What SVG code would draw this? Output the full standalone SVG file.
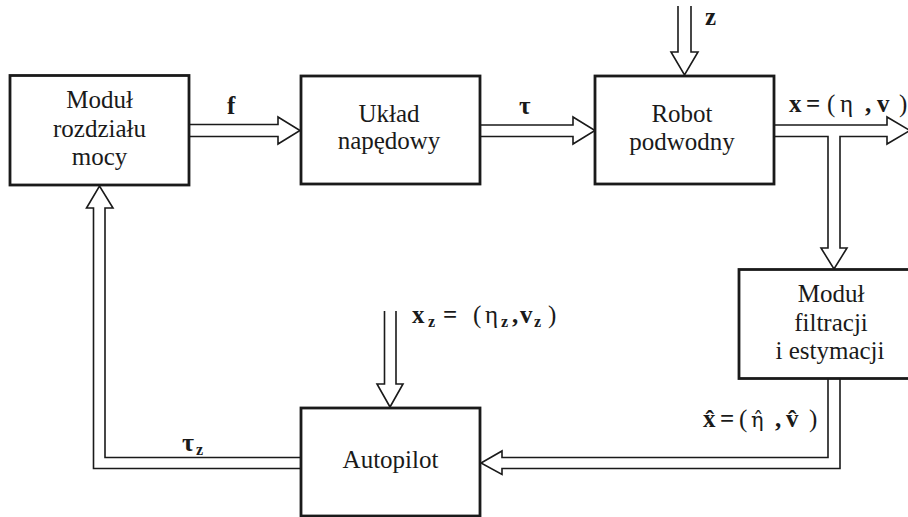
<svg xmlns="http://www.w3.org/2000/svg" width="908" height="517" viewBox="0 0 908 517">
<style>
.box{fill:#fff;stroke:#1a1a1a;stroke-width:2.8}
.arr{fill:#fff;stroke:#1a1a1a;stroke-width:1.6;stroke-linejoin:miter}
text{font-family:'Liberation Serif','Times New Roman',Times,serif;fill:#1a1a1a}
.t{font-size:25px;text-anchor:middle}
.l{font-size:25px;font-weight:bold}
.g{font-weight:normal}
.s{font-size:16px}
.dj{font-family:'DejaVu Serif',serif;font-size:21px}
</style>
<rect width="908" height="517" fill="#fff"/>
<g id="connectors">
<path class="arr" d="M189,124.5 H278 V117 L300,130.5 L278,144 V136.5 H189"/>
<path class="arr" d="M480,125 H573 V117 L595,130.5 L573,144 V136.5 H480"/>
<path class="arr" d="M678,6 V52 H671 L684.5,75 L698,52 H691 V6"/>
<path class="arr" d="M774,125 H887 V117 L910,130.5 L887,144 V136.5 H840 V248 H847 L834,269 L821,248 H828 V136.5 H774"/>
<path class="arr" d="M828,379 V457.5 H502 V451 L481,463 L502,474.5 V468.5 H840 V379"/>
<path class="arr" d="M301,457.5 H105 V208 H113 L99.5,186 L86.5,208 H93.5 V468.5 H301"/>
<path class="arr" d="M384.5,311 V384 H377 L390,407 L403,384 H396 V311"/>
</g>
<g id="n_modul_rozdzialu">
<rect class="box" x="10" y="75.5" width="179" height="109.5"/>
<text class="t" x="99.5" y="108">Moduł</text>
<text class="t" x="99.5" y="136.5">rozdziału</text>
<text class="t" x="99.5" y="165">mocy</text>
</g>
<g id="n_uklad">
<rect class="box" x="301" y="76" width="179" height="108"/>
<text class="t" x="389" y="122">Układ</text>
<text class="t" x="389" y="149">napędowy</text>
</g>
<g id="n_robot">
<rect class="box" x="595" y="76" width="179" height="108"/>
<text class="t" x="682" y="122">Robot</text>
<text class="t" x="682" y="150">podwodny</text>
</g>
<g id="n_filtracja">
<rect class="box" x="739" y="269.5" width="186" height="109"/>
<text class="t" x="831" y="302">Moduł</text>
<text class="t" x="831" y="331">filtracji</text>
<text class="t" x="830" y="359">i estymacji</text>
</g>
<g id="n_autopilot">
<rect class="box" x="301" y="408" width="179" height="108"/>
<text class="t" x="390.5" y="468">Autopilot</text>
</g>
<g id="labels">
<text class="l" x="227" y="114" font-size="22">f</text>
<text class="l" x="519" y="114" font-size="26">τ</text>
<text class="l" x="705" y="25">z</text>
<text class="l" y="112"><tspan x="789">x</tspan><tspan x="806">=</tspan><tspan x="827" class="g">(</tspan><tspan x="840" class="g">η</tspan><tspan x="865">,</tspan><tspan x="877">v</tspan><tspan x="899" class="g">)</tspan></text>
<text class="l" y="427"><tspan x="703">x̂</tspan><tspan x="720">=</tspan><tspan x="739" class="g">(</tspan><tspan x="751" class="g dj">η̂</tspan><tspan x="775">,</tspan><tspan x="786">v̂</tspan><tspan x="809" class="g">)</tspan></text>
<text class="l" y="323"><tspan x="412">x</tspan><tspan x="428" class="s" dy="4">z</tspan><tspan x="443" dy="-4">=</tspan><tspan x="473" class="g">(</tspan><tspan x="485" class="g">η</tspan><tspan x="501" class="s" dy="4">z</tspan><tspan x="512" dy="-4">,</tspan><tspan x="520">v</tspan><tspan x="534" class="s" dy="4">z</tspan><tspan x="548" class="g" dy="-4">)</tspan></text>
<text class="l" y="451"><tspan x="182" font-size="26">τ</tspan><tspan x="196" class="s" dy="4">z</tspan></text>
</g>
</svg>
